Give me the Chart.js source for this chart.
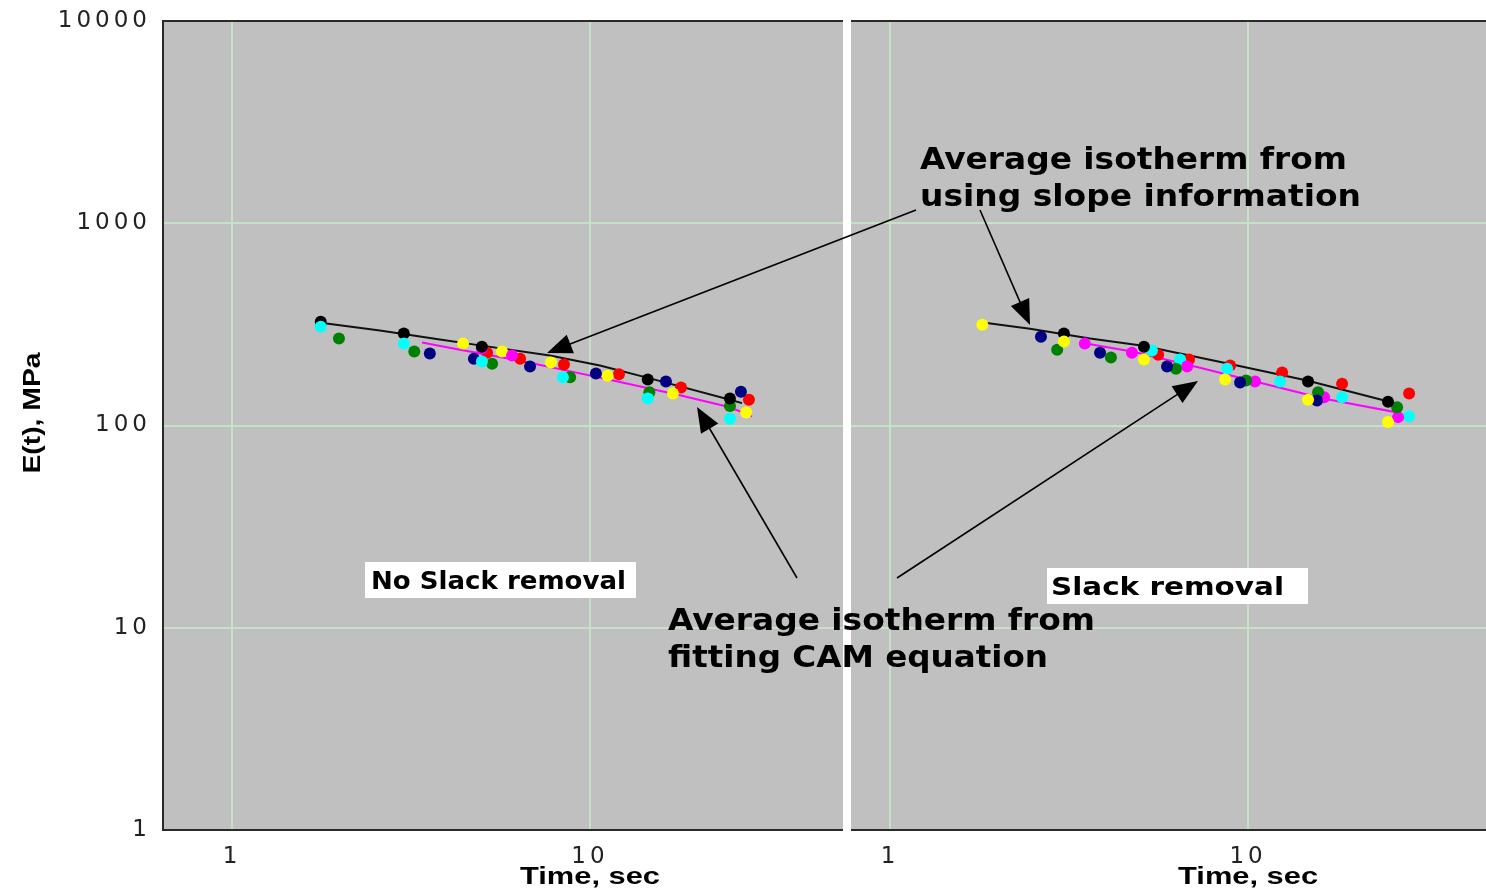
<!DOCTYPE html>
<html lang="en">
<head>
<meta charset="UTF-8">
<title>E(t) isotherms - slack removal</title>
<script src="https://cdn.jsdelivr.net/npm/chart.js"></script>
<style>
    body { margin: 0; background: #fff; }
    #wrap { position: relative; width: 1486px; height: 890px; }
    canvas { position: absolute; left: 0; top: 0; }
</style>
</head>
<body>
<div id="wrap">
    <canvas id="leftChart" width="1486" height="890"></canvas>
    <canvas id="rightChart" width="1486" height="890"></canvas>
</div>
<script>
// ---- data: [time (sec), E(t) (MPa)] ----
var xTicks = [1, 10];
var yTicks = [1, 10, 100, 1000, 10000];

// left panel: no slack removal
var nsBlack   = [[1.77, 326], [3.02, 285], [4.99, 245], [14.5, 169], [24.6, 136]];
var nsCyan    = [[1.77, 308], [3.02, 254], [4.99, 207], [8.4, 173], [14.5, 136], [24.6, 108]];
var nsGreen   = [[1.99, 269], [3.23, 232], [5.33, 202], [8.8, 173], [14.65, 146], [24.6, 125]];
var nsNavy    = [[3.57, 227], [4.74, 214], [6.8, 196], [10.39, 181], [16.3, 165], [26.4, 147]];
var nsYellow  = [[4.42, 254], [5.68, 232], [7.78, 205], [11.2, 176], [17.05, 144], [27.3, 116]];
var nsRed     = [[5.16, 229], [6.38, 214], [8.46, 200], [12.05, 179], [17.96, 154], [27.8, 134]];
var nsMagenta = [[4.99, 240], [6.06, 222]];
var nsSlopeFit = [[1.77, 322], [2.59, 295], [3.81, 266], [4.93, 249], [7.73, 222], [10.66, 198], [14.71, 171], [24.61, 134], [26.58, 129]];
var nsCamFit   = [[3.395, 257], [4.335, 237], [6.376, 209], [9.38, 181], [11.6, 167], [17.84, 141], [24.6, 123], [28.35, 111]];

// right panel: slack removal
var sBlack   = [[3.06, 285], [5.12, 245], [14.71, 165], [24.6, 131]];
var sYellow  = [[1.81, 315], [3.06, 260], [5.12, 212], [8.63, 169], [14.71, 134], [24.6, 104]];
var sNavy    = [[2.64, 275], [3.86, 229], [5.94, 196], [9.5, 163], [15.58, 133]];
var sGreen   = [[2.93, 237], [4.14, 217], [6.29, 191], [9.87, 167], [15.69, 146], [26.08, 123]];
var sMagenta = [[3.5, 254], [4.74, 229], [6.76, 196], [10.46, 165], [16.31, 138], [26.24, 110]];
var sCyan    = [[5.39, 235], [6.46, 212], [8.74, 191], [12.29, 165], [18.31, 138], [28.17, 111]];
var sRed     = [[5.61, 224], [6.84, 212], [8.91, 198], [12.45, 183], [18.31, 161], [28.17, 144]];
var sSlopeFit = [[1.84, 322], [2.46, 301], [3.62, 269], [5.09, 248], [8.51, 205], [14.62, 167], [26.08, 128]];
var sCamFit   = [[3.395, 257], [4.742, 232], [7.34, 193], [10.46, 165], [16.2, 136], [26.08, 116], [26.3, 110]];

function xy(arr) {
    return arr.map(function (p) { return { x: p[0], y: p[1] }; });
}

function dots(arr, color) {
    return { type: 'scatter', data: xy(arr), backgroundColor: color, borderWidth: 0, pointRadius: 6, pointHoverRadius: 6 };
}

function fitLine(arr, color) {
    return { type: 'line', data: xy(arr), borderColor: color, borderWidth: 2, pointRadius: 0, fill: false, tension: 0 };
}

// draw text stretched to a given width (the original picture is stretched sideways)
function stretchText(ctx, txt, x, y, w, font, align) {
    ctx.save();
    ctx.letterSpacing = '0px';
    ctx.font = font;
    ctx.fillStyle = '#000';
    ctx.textBaseline = 'alphabetic';
    var nat = ctx.measureText(txt).width;
    var left = align === 'center' ? x - w / 2 : x;
    ctx.translate(left, y);
    ctx.scale(w / nat, 1);
    ctx.textAlign = 'left';
    ctx.fillText(txt, 0, 0);
    ctx.restore();
}

function arrow(ctx, x1, y1, x2, y2) {
    var ang = Math.atan2(y2 - y1, x2 - x1);
    var len = 25, half = 10;
    ctx.save();
    ctx.strokeStyle = '#000';
    ctx.fillStyle = '#000';
    ctx.lineWidth = 1.6;
    ctx.beginPath();
    ctx.moveTo(x1, y1);
    ctx.lineTo(x2 - Math.cos(ang) * len * 0.8, y2 - Math.sin(ang) * len * 0.8);
    ctx.stroke();
    ctx.beginPath();
    ctx.moveTo(x2, y2);
    ctx.lineTo(x2 - Math.cos(ang) * len - Math.sin(ang) * half, y2 - Math.sin(ang) * len + Math.cos(ang) * half);
    ctx.lineTo(x2 - Math.cos(ang) * len + Math.sin(ang) * half, y2 - Math.sin(ang) * len - Math.cos(ang) * half);
    ctx.closePath();
    ctx.fill();
    ctx.restore();
}

// grey plot background, dark frame, "Time, sec" under the 10 tick
var panelPlugin = {
    id: 'panel',
    beforeDraw: function (chart) {
        var ctx = chart.ctx, a = chart.chartArea;
        ctx.save();
        ctx.fillStyle = '#c0c0c0';
        ctx.fillRect(a.left, a.top, a.right - a.left, a.bottom - a.top);
        ctx.restore();
        ctx.letterSpacing = '4px';
    },
    beforeDatasetsDraw: function (chart, args, opts) {
        var ctx = chart.ctx, a = chart.chartArea;
        ctx.save();
        ctx.strokeStyle = '#2a2a2a';
        ctx.lineWidth = 2;
        ctx.beginPath();
        ctx.moveTo(a.left, a.top);
        ctx.lineTo(a.right, a.top);
        ctx.moveTo(a.left, a.bottom);
        ctx.lineTo(a.right, a.bottom);
        if (opts.leftEdge) {
            ctx.moveTo(a.left, a.top - 1);
            ctx.lineTo(a.left, a.bottom + 1);
        }
        ctx.stroke();
        ctx.restore();
    },
    afterDraw: function (chart, args, opts) {
        var ctx = chart.ctx;
        var cx = chart.scales.x.getPixelForValue(10);
        stretchText(ctx, 'Time, sec', cx, 884, 140, 'bold 24px "Liberation Sans"', 'center');
        if (opts.yTitle) {
            ctx.save();
            ctx.translate(40, 413);
            ctx.rotate(-Math.PI / 2);
            stretchText(ctx, 'E(t), MPa', 0, 0, 121, 'bold 23px "Liberation Sans"', 'center');
            ctx.restore();
        }
    }
};

var notePlugin = {
    id: 'notes',
    afterDraw: function (chart) {
        var ctx = chart.ctx;
        var big = 'bold 30px "DejaVu Sans"';
        var box = 'bold 24px "DejaVu Sans"';
        stretchText(ctx, 'Average isotherm from', 920, 169, 427, big);
        stretchText(ctx, 'using slope information', 920, 206, 441, big);
        stretchText(ctx, 'Average isotherm from', 668, 630, 427, big);
        stretchText(ctx, 'fitting CAM equation', 668, 667, 380, big);

        ctx.save();
        ctx.fillStyle = '#fff';
        ctx.fillRect(365, 562, 271, 36);
        ctx.fillRect(1047, 568, 261, 36);
        ctx.restore();
        stretchText(ctx, 'No Slack removal', 371, 589, 255, box);
        stretchText(ctx, 'Slack removal', 1051, 595, 233, box);

        arrow(ctx, 916, 210, 547, 353);
        arrow(ctx, 980, 210, 1030, 325);
        arrow(ctx, 797, 578, 697, 407);
        arrow(ctx, 897, 578, 1198, 381);
    }
};

function logAxis(min, max, ticks, showLabels, padding) {
    return {
        type: 'logarithmic',
        min: min,
        max: max,
        bounds: 'data',
        afterBuildTicks: function (scale) {
            scale.ticks = ticks.map(function (v) { return { value: v }; });
        },
        ticks: {
            display: showLabels,
            autoSkip: false,
            maxRotation: 0,
            padding: padding,
            color: '#222',
            font: { family: 'DejaVu Sans', size: 23 },
            callback: function (v) { return String(v); }
        },
        grid: { color: '#c6e2c6', lineWidth: 2, drawTicks: false },
        border: { display: false }
    };
}

function makeChart(id, datasets, xMin, xMax, padding, yWidth, leftEdge) {
    var yAxis = logAxis(1, 10000, yTicks, leftEdge, 12);
    yAxis.afterFit = function (scale) {
        scale.width = yWidth;
        scale.paddingTop = 0;
        scale.paddingBottom = 0;
    };
    var xAxis = logAxis(xMin, xMax, xTicks, true, 13);
    xAxis.afterFit = function (scale) {
        scale.height = 60;
        scale.paddingLeft = 0;
        scale.paddingRight = 0;
    };
    return new Chart(document.getElementById(id).getContext('2d'), {
        type: 'scatter',
        data: { datasets: datasets },
        options: {
            responsive: false,
            animation: false,
            layout: { padding: padding, autoPadding: false },
            scales: { x: xAxis, y: yAxis },
            plugins: {
                legend: { display: false },
                tooltip: { enabled: false },
                panel: { leftEdge: leftEdge, yTitle: leftEdge }
            }
        },
        plugins: leftEdge ? [panelPlugin] : [panelPlugin, notePlugin]
    });
}

// first dataset ends up on top
var leftSets = [
    dots(nsCyan, '#00ffff'),
    dots(nsBlack, '#000000'),
    dots(nsGreen, '#008000'),
    dots(nsNavy, '#000080'),
    dots(nsMagenta, '#ff00ff'),
    dots(nsYellow, '#ffff00'),
    dots(nsRed, '#ff0000'),
    fitLine(nsSlopeFit, '#111111'),
    fitLine(nsCamFit, '#ff00ff')
];

var rightSets = [
    dots(sYellow, '#ffff00'),
    dots(sBlack, '#000000'),
    dots(sNavy, '#000080'),
    dots(sGreen, '#008000'),
    dots(sMagenta, '#ff00ff'),
    dots(sCyan, '#00ffff'),
    dots(sRed, '#ff0000'),
    fitLine(sSlopeFit, '#111111'),
    fitLine(sCamFit, '#ff00ff')
];

var leftChart = makeChart('leftChart', leftSets, 0.6418, 50.9,
    { top: 21, right: 643, bottom: 0, left: 0 }, 163, true);
var rightChart = makeChart('rightChart', rightSets, 0.778, 46.2,
    { top: 21, right: 0, bottom: 0, left: 851 }, 0, false);
</script>
</body>
</html>
